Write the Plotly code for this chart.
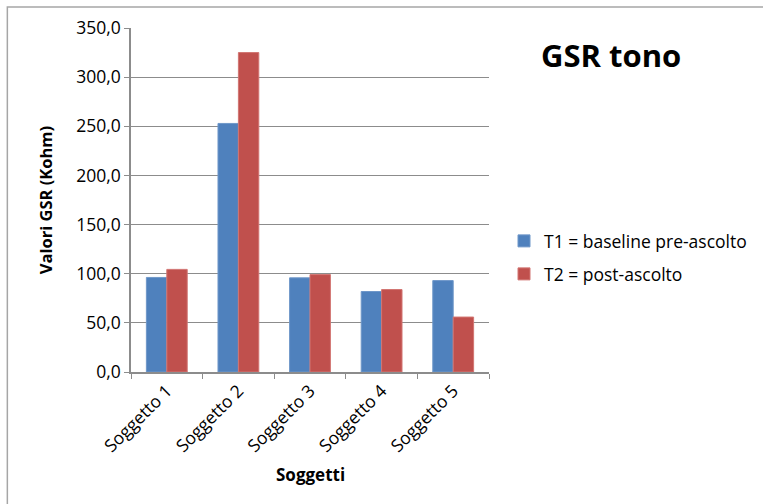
import plotly.graph_objects as go

# Data
soggetti = ["Soggetto 1", "Soggetto 2", "Soggetto 3", "Soggetto 4", "Soggetto 5"]
t1_baseline = [96.2, 252.9, 95.8, 81.9, 93.0]
t2_post = [104.4, 325.0, 99.1, 83.9, 55.9]
series_names = ["T1 = baseline pre-ascolto", "T2 = post-ascolto"]
y_ticks = [0, 50, 100, 150, 200, 250, 300, 350]

FONT = "Open Sans"
BLUE = "#4F81BD"
RED = "#C0504D"
GRID = "#8C8C8C"

fig = go.Figure()
fig.add_trace(go.Bar(
    x=soggetti, y=t1_baseline, name=series_names[0],
    marker=dict(color=BLUE, line=dict(color="#6F97C9", width=1)),
    legend="legend",
))
fig.add_trace(go.Bar(
    x=soggetti, y=t2_post, name=series_names[1],
    marker=dict(color=RED, line=dict(color="#D27572", width=1)),
    legend="legend2",
))

W, H = 763, 504
L, R, T, B = 131, 273, 28, 132
pw, ph = W - L - R, H - T - B


def px(xpix):
    return (xpix - L) / pw


def py(ypix):
    return (H - B - ypix) / ph


fig.update_layout(
    width=W, height=H,
    margin=dict(l=L, r=R, t=T, b=B),
    paper_bgcolor="white", plot_bgcolor="white",
    separators=",.",
    barmode="group", bargap=0.43, bargroupgap=0,
    font=dict(family=FONT, color="black"),
    xaxis=dict(
        type="category", showgrid=False,
        showline=True, linecolor=GRID, linewidth=1.5,
        ticks="outside", tickson="boundaries", ticklen=5, tickcolor=GRID,
        tickangle=-45, tickfont=dict(size=17.5, family=FONT),
    ),
    yaxis=dict(
        range=[0, 350], tickvals=y_ticks, tickformat=".1f",
        showgrid=True, gridcolor=GRID, gridwidth=1.2,
        showline=True, linecolor=GRID, linewidth=1.5,
        ticks="outside", ticklen=5, tickcolor=GRID,
        tickfont=dict(size=17.5, family=FONT), zeroline=False,
    ),
    legend=dict(
        x=px(504), y=py(241), xanchor="left", yanchor="middle",
        font=dict(size=17.5, family=FONT), bgcolor="rgba(0,0,0,0)",
    ),
    legend2=dict(
        x=px(504), y=py(274), xanchor="left", yanchor="middle",
        font=dict(size=17.5, family=FONT), bgcolor="rgba(0,0,0,0)",
    ),
    showlegend=True,
)

fig.add_annotation(
    text="<b>GSR tono</b>", xref="paper", yref="paper",
    x=px(612), y=py(55), xanchor="center", yanchor="middle",
    showarrow=False, font=dict(size=31, family=FONT),
)
fig.add_annotation(
    text="<b>Valori GSR (Kohm)</b>", xref="paper", yref="paper",
    x=px(45), y=py(200), xanchor="center", yanchor="middle", textangle=-90,
    showarrow=False, font=dict(size=16.5, family=FONT),
)
fig.add_annotation(
    text="<b>Soggetti</b>", xref="paper", yref="paper",
    x=px(311), y=py(475), xanchor="center", yanchor="middle",
    showarrow=False, font=dict(size=17, family=FONT),
)

# Outer chart border
fig.add_shape(
    type="rect", xref="paper", yref="paper",
    x0=px(7), y0=py(520), x1=px(780), y1=py(7),
    line=dict(color="#A6A6A6", width=1.5), fillcolor="rgba(0,0,0,0)",
    layer="below",
)

fig.write_html("out.html")
